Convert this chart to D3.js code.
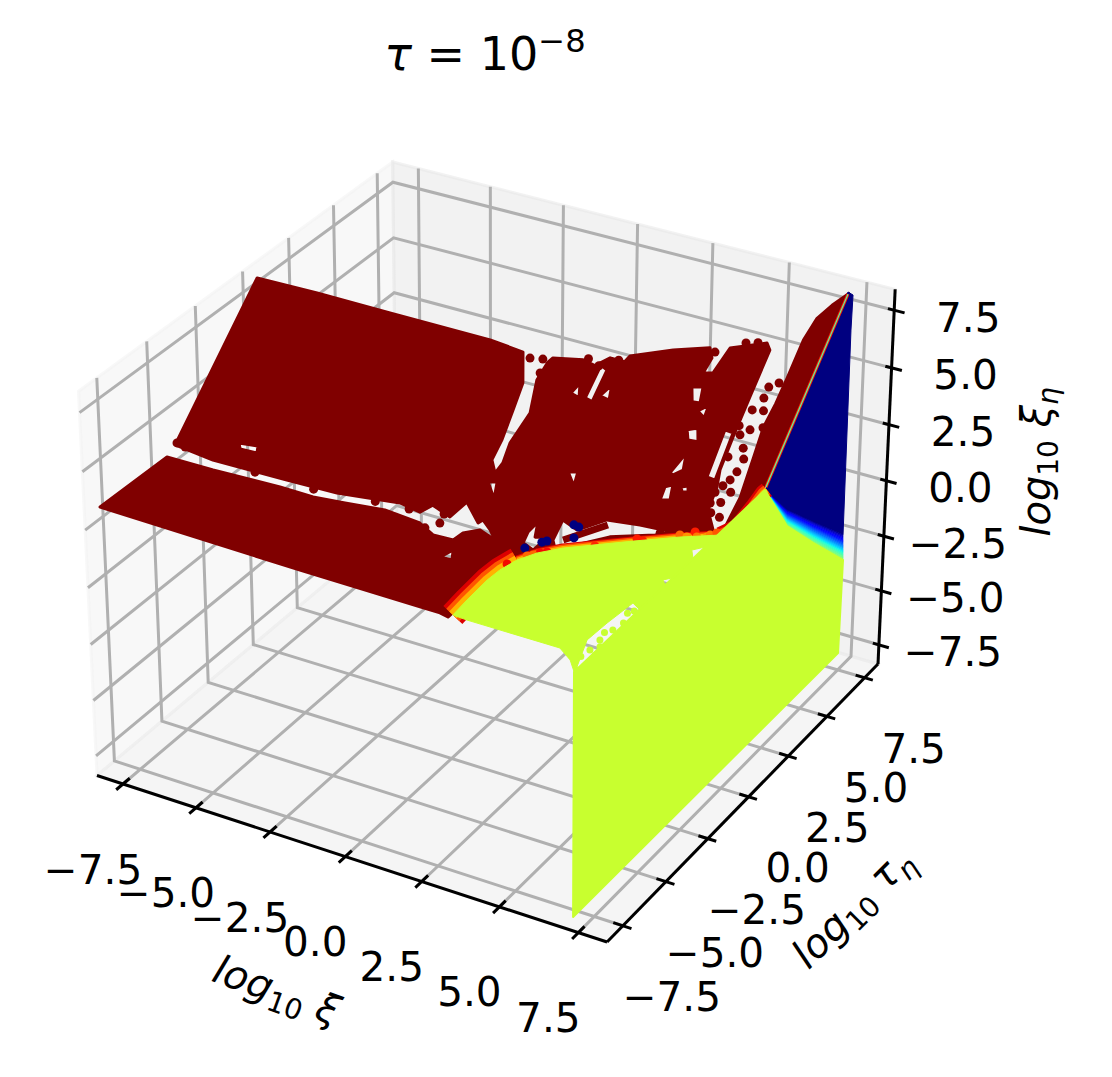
<!DOCTYPE html>
<html><head><meta charset="utf-8">
<script src="https://cdn.jsdelivr.net/npm/d3@7"></script>
<style>html,body{margin:0;background:#fff}svg{display:block}text{font-family:"DejaVu Sans";fill:#000}</style></head>
<body><svg id="chart" width="1112" height="1077"></svg>
<script>
// axis ticks, all three axes share them
const ticks = [-7.5, -5, -2.5, 0, 2.5, 5, 7.5];

// sloped maroon sheet, pairs of [log xi, log tau], xi_eta = tau + 3
const backOutline = [[-9.81,2.92],[-7.74,2.95],[-5.23,2.94],[-1.85,2.94],[-0.71,2.86],[-0.29,2.12],[-0.21,1.41],[-0.13,0.63],[-0.15,0.10],[0.12,-0.19],[0.21,0.10],[0.15,0.62],[0.33,1.45],[0.08,2.28],[0.16,2.78],[0.25,2.91],[1.16,3.06],[1.58,3.00],[1.92,3.28],[2.39,3.28],[2.47,3.45],[3.64,3.87],[4.67,4.15],[4.86,3.92],[4.80,3.51],[5.08,3.57],[5.25,4.27],[6.24,4.62],[6.41,4.47],[6.44,3.24],[6.47,2.20],[6.52,1.35],[6.65,0.93],[6.69,0.34],[7.08,-0.08],[5.11,-0.72],[3.10,-1.52],[1.69,-2.24],[1.14,-1.84],[0.74,-1.54],[0.40,-1.36],[0.30,-1.46],[-0.31,-1.05],[-0.60,-1.51],[-1.26,-1.35],[-1.54,-1.60],[-2.25,-1.52],[-4.25,-1.71],[-5.93,-1.75],[-8.45,-1.78],[-9.83,-1.68]];
const backHoles = [
  [[6.51,1.08],[6.42,2.29],[6.15,2.31],[6.24,1.10]],
  [[4.66,3.11],[4.98,3.18],[5.10,2.78],[4.86,2.76]],
  [[5.14,2.58],[5.38,2.79],[5.41,2.46]],
  [[5.08,2.07],[5.36,2.18],[5.54,1.86],[5.23,1.84]],
  [[5.14,0.96],[5.31,1.41],[5.33,1.60],[5.48,1.11],[5.26,0.93]],
  [[5.21,0.27],[5.18,0.60],[5.38,0.70],[5.49,0.33]],
  [[5.64,0.70],[5.82,0.77],[5.90,0.63],[5.73,0.59]],
  [[2.22,0.32],[2.50,0.38],[2.57,0.03]],
  [[1.25,2.19],[1.38,2.49],[1.55,2.13]],
  [[1.73,2.17],[1.75,3.05],[1.99,2.97],[1.98,2.12]],
  [[2.13,2.31],[2.33,2.65],[2.45,2.27]],
  [[0.04,-0.44],[0.30,-0.38],[0.44,-0.80]],
  [[-7.91,-1.20],[-7.29,-1.14],[-7.22,-1.31],[-7.79,-1.33]],
  [[2.70,-0.83],[3.24,-0.97],[3.96,-0.54],[4.96,-0.44],[5.98,-0.39],[5.51,-0.57],[4.26,-0.91],[3.37,-1.33],[2.84,-1.53],[2.68,-1.36]],
  [[1.35,-1.87],[1.61,-1.92],[2.00,-2.04],[1.63,-2.07]],
  [[1.86,-1.34],[2.01,-1.04],[2.13,-1.41],[2.50,-1.32],[2.24,-1.72],[1.86,-1.62]]
];
const backBar = [[2.97,-1.29],[4.05,-0.65]];
const backDots = [[-0.42,2.76],[-0.03,2.82],[0.08,2.47],[4.87,4.08],[5.64,4.49],[5.98,4.57],[6.85,3.59],[7.09,3.75],[6.85,3.30],[6.67,2.95],[6.86,2.47],[6.64,2.29],[6.58,1.70],[7.02,1.41],[6.93,1.18],[6.66,0.80],[6.66,0.52],[5.95,0.25],[5.62,-0.03],[5.99,0.00],[6.26,0.20],[6.67,0.03],[6.88,-0.07],[6.60,-0.24],[6.39,-0.32],[4.66,-0.30],[5.63,-0.49],[-1.18,-1.93],[-0.81,-1.48],[-0.81,-1.72],[-9.80,-1.62],[-9.49,-1.66],
  [6.80,1.00],[6.95,0.60],[6.80,0.30],[7.10,0.90],[7.10,0.25],[6.30,0.45],[6.45,0.60],[6.90,2.00],[7.05,1.75],[7.20,2.60],[7.00,3.00],[6.50,2.50],
  [-7.00,-1.78],[-5.00,-1.78],[-3.00,-1.65],[-1.90,-1.60],[1.30,3.12],[1.70,3.02],[2.20,3.28]];
const blueDots = [[3.08,-0.87],[3.25,-0.89],[2.39,-1.48],[2.52,-1.42],[1.98,-1.73],[1.67,-2.09],[3.25,-1.17]];

// flat sheet, pairs of [log xi, log tau], xi_eta = 2.7
const stripOutline = [[-8.62,-7.32],[-8.58,-3.95],[-7.02,-3.93],[-4.84,-3.81],[-3.72,-3.83],[-2.76,-3.67],[-1.58,-3.45],[-0.35,-3.59],[0.31,-3.98],[0.94,-3.94],[0.98,-3.47],[1.31,-3.09],[1.95,-3.36],[3.00,-4.35],[2.91,-6.39],[2.93,-7.61],[2.63,-7.53],[2.00,-7.53],[-1.88,-7.48]];
const stripHole = [[1.10,-4.94],[1.22,-4.42],[1.47,-4.91]];
const plateauOutline = [[2.99,-7.45],[2.92,-6.57],[2.86,-5.37],[2.89,-4.72],[3.03,-4.01],[3.32,-3.40],[3.81,-2.80],[4.45,-2.24],[5.31,-1.49],[6.33,-0.64],[7.25,0.02],[7.45,0.66],[7.32,1.88],[7.20,2.74],[7.21,2.95],[7.28,-8.38],[6.89,-7.90],[6.35,-7.50],[3.46,-7.49]];
const plateauHoles = [
  [[7.22,-8.12],[6.78,-6.77],[6.82,-5.73],[6.92,-4.45],[7.26,-4.68],[7.37,-6.01],[7.25,-7.28],[7.39,-8.09]],
  [[6.96,-1.11],[7.20,-0.78],[7.41,-1.29],[7.19,-1.48]],
  [[7.04,-2.95],[7.21,-2.73],[7.39,-3.07],[7.22,-3.16]]
];
const edgeLeft = [[2.99,-7.45],[2.92,-6.57],[2.86,-5.37],[2.89,-4.72],[3.03,-4.01]];
const edgeMiddle = [[3.03,-4.01],[3.32,-3.40],[3.81,-2.80],[4.45,-2.24],[5.31,-1.49],[6.33,-0.64],[7.25,0.02]];
const edgeRight = [[7.25,0.02],[7.45,0.66],[7.32,1.88],[7.20,2.74],[7.21,2.95]];
const hotDots = [[2.90,-4.34],[3.12,-4.28],[4.52,-2.26],[3.39,-3.36],[3.53,-3.21],[3.16,-3.68],[3.28,-3.55],[5.35,-1.33],[5.55,-1.35],[6.28,-0.54],[6.50,-0.54],[6.57,-0.18],[6.74,-0.40],[6.99,-0.26],[7.01,-0.12],[7.12,0.08]];
const hotValues = [0.9,0.68,0.87,0.9,0.9,0.8,0.8,0.88,0.88,0.8,0.75,0.88,0.78,0.75,0.78,0.82];
const limeDots = [[7.10,-7.19],[7.08,-6.60],[7.13,-5.97],[7.05,-7.60],[7.25,-6.90],[7.00,-6.20],[7.20,-5.50],[7.05,-5.00],[7.15,-4.80]];

// ridge, pairs of [log xi, log tau], xi_eta = tau
const ridgeOutline = [[7.12,8.03],[6.78,7.63],[6.51,7.21],[6.40,6.60],[6.42,5.61],[6.42,4.90],[6.37,4.27],[6.47,3.50],[6.60,2.47],[6.54,1.59],[6.87,1.80],[7.12,2.52],[7.16,2.97]];

// wall at log xi = 7, pairs of [log tau, log xi_eta]
const blueOutline = [[3.37,2.61],[8.22,7.91],[8.56,7.58],[8.52,6.08],[8.55,-3.08],[6.47,-1.11],[4.72,0.58],[3.26,2.29]];
const blueEdge = [[3.25,2.42],[4.72,0.58],[6.47,-1.11],[8.55,-3.08]];
const limeEdge = [[3.25,2.42],[4.76,-0.25],[6.53,-2.19],[8.63,-4.38]];
const wallOutline = [[-7.80,-8.41],[8.54,-8.55],[8.62,-4.28],[6.52,-2.09],[4.75,-0.15],[3.25,2.42],[-7.88,2.23]];
const peakLine = [[3.31,2.51],[8.22,7.82]];

// jet colour map levels used by the edge stripes [value, left, middle, right stroke]
const edgeLevels = [[0.92,26,9,16],[0.82,18,7,11],[0.72,10,4,6]];

const LIM = 8.4;
const aspect = [1.1905, 1.1905, 0.8929], elev = 30 * Math.PI / 180, azim = -60 * Math.PI / 180, dist = 10;
const sc = aspect.map(a => d3.scaleLinear().domain([-LIM, LIM]).range([0, a]));
const w = [Math.cos(elev) * Math.cos(azim), Math.cos(elev) * Math.sin(azim), Math.sin(elev)];
const E = aspect.map((a, i) => a / 2 + dist * w[i]);
const cross = (a, b) => [a[1]*b[2]-a[2]*b[1], a[2]*b[0]-a[0]*b[2], a[0]*b[1]-a[1]*b[0]];
const dot = (a, b) => a[0]*b[0] + a[1]*b[1] + a[2]*b[2];
let u = cross([0, 0, 1], w);
const un = Math.hypot(...u);
u = u.map(d => d / un);
const v = cross(w, u);

// same perspective as mplot3d, elev 30 azim -60
function view(p) {
  const q = [sc[0](p[0]) - E[0], sc[1](p[1]) - E[1], sc[2](p[2]) - E[2]];
  const zv = -dot(w, q);
  return [dot(u, q) / zv, dot(v, q) / zv];
}
const L = -LIM, H = LIM;
const xS = d3.scaleLinear().domain([view([L,L,L])[0], view([H,H,L])[0]]).range([97, 878]);
const yS = d3.scaleLinear().domain([view([H,L,L])[1], view([L,H,H])[1]]).range([942, 162]);
const pr = p => { const s = view(p); return [xS(s[0]), yS(s[1])]; };

const onBack = l => l.map(d => [d[0], d[1], d[1] + 3]);
const onFlat = l => l.map(d => [d[0], d[1], 2.7]);
const onRidge = l => l.map(d => [d[0], d[1], d[1]]);
const onWall = l => l.map(d => [7, d[0], d[1]]);

const svg = d3.select("#chart");
const line = d3.line().x(d => pr(d)[0]).y(d => pr(d)[1]);
const ringPath = rs => rs.map(r => line(r) + "Z").join("");

const jetR = d3.scaleLinear().domain([0,.35,.66,.89,1]).range([0,0,1,1,.5]);
const jetG = d3.scaleLinear().domain([0,.125,.375,.64,.91,1]).range([0,0,1,1,0,0]);
const jetB = d3.scaleLinear().domain([0,.11,.34,.65,1]).range([.5,1,1,0,0]);
const jet = t => d3.rgb(255*jetR(t), 255*jetG(t), 255*jetB(t)).formatHex();
const MAROON = jet(1), NAVY = jet(0), LIME = jet(.593);

// panes
const panes = [[[L,L,L],[L,H,L],[L,H,H],[L,L,H]], [[L,H,L],[H,H,L],[H,H,H],[L,H,H]], [[L,L,L],[H,L,L],[H,H,L],[L,H,L]]];
const paneC = ["rgba(242,242,242,.5)", "rgba(230,230,230,.5)", "rgba(236,236,236,.5)"];
svg.selectAll(".pane").data(panes).join("path").attr("class", "pane")
  .attr("d", d => line(d) + "Z").attr("fill", (d, i) => paneC[i]).attr("stroke", (d, i) => paneC[i]).attr("stroke-width", 3);

// grid
const grid = [];
ticks.forEach(t => {
  grid.push([[t,L,L],[t,H,L],[t,H,H]]);
  grid.push([[H,t,L],[L,t,L],[L,t,H]]);
  grid.push([[L,L,t],[L,H,t],[H,H,t]]);
});
svg.selectAll(".grid").data(grid).join("path").attr("class", "grid")
  .attr("d", line).attr("fill", "none").attr("stroke", "#b0b0b0").attr("stroke-width", 3);

// axis lines and tick marks
const axes = [[[L,L,L],[H,L,L]], [[H,L,L],[H,H,L]], [[H,H,L],[H,H,H]]];
ticks.forEach(t => {
  axes.push([[t,L-.35,L],[t,L+.35,L]]);
  axes.push([[H-.3,t,L],[H+.27,t,L]]);
  axes.push([[H-.2,H,t],[H+.33,H,t]]);
});
svg.selectAll(".ax").data(axes).join("path").attr("class", "ax")
  .attr("d", line).attr("fill", "none").attr("stroke", "#000").attr("stroke-width", 3);

const fmt = t => (t < 0 ? "\u2212" : "") + Math.abs(t).toFixed(1);
function tickLabel(p, dx, dy, t) {
  const s = pr(p);
  svg.append("text").attr("x", s[0] + dx).attr("y", s[1] + dy).attr("dy", ".36em")
    .attr("text-anchor", "middle").attr("font-size", 40.5).text(fmt(t));
}
ticks.forEach(t => {
  tickLabel([t,L,L], -30, 85, t);
  tickLabel([H,t,L], 49, 71, t);
  tickLabel([H,H,t], 74, 7, t);
});

const rings = (rs, c, sw) => svg.append("path").attr("d", ringPath(rs)).attr("fill", c).attr("fill-rule", "evenodd")
  .attr("stroke", c).attr("stroke-width", sw).attr("stroke-linejoin", "round");
const dots = (l, c, r) => svg.append("g").selectAll("circle").data(l).join("circle")
  .attr("cx", d => pr(d)[0]).attr("cy", d => pr(d)[1]).attr("r", r).attr("fill", c);
const stroke = (l, c, sw) => svg.append("path").attr("d", line(l)).attr("fill", "none").attr("stroke", c)
  .attr("stroke-width", sw).attr("stroke-linejoin", "round");

// maroon sheets
rings([backOutline].concat(backHoles).map(onBack), MAROON, 3);
dots(onBack(backDots), MAROON, 4.5);
stroke(onBack(backBar), MAROON, 7);
rings([stripOutline, stripHole].map(onFlat), MAROON, 3);
dots(onBack(blueDots), NAVY, 4.5);
rings([onRidge(ridgeOutline)], MAROON, 2);

// wall, blue then fan of jet colours down to lime
rings([onWall(blueOutline)], NAVY, 1);
const N = 22, bE = onWall(blueEdge), lE = onWall(limeEdge);
const mix = (a, b, t) => a.map((d, i) => [d[0], d[1] + (b[i][1] - d[1]) * t, d[2] + (b[i][2] - d[2]) * t]);
d3.range(N).forEach(k => {
  const A = mix(bE, lE, k / N), B = mix(bE, lE, (k + 1) / N), c = jet(.03 + .563 * k / N);
  svg.append("path").attr("d", line(A.concat(B.slice().reverse())) + "Z").attr("fill", c).attr("stroke", c).attr("stroke-width", .6);
});

// hot stripes along the rim of the plateau
edgeLevels.forEach(b => {
  stroke(onFlat(edgeLeft), jet(b[0]), b[1]);
  stroke(onFlat(edgeMiddle), jet(b[0]), b[2]);
  stroke(onFlat(edgeRight), jet(b[0]), b[3]);
});
stroke(onWall(peakLine), jet(.88), 3);
stroke(onWall(peakLine), jet(.45), 1.2);
hotDots.forEach((d, i) => dots(onFlat([d]), jet(hotValues[i]), 4.5));

rings([plateauOutline].concat(plateauHoles).map(onFlat), LIME, 1);
dots(onFlat(limeDots), LIME, 3.5);
rings([onWall(wallOutline)], LIME, 2);

// mathtext style labels
function mathLabel(x, y, rot, fs, parts) {
  const t = svg.append("text").attr("transform", `translate(${x},${y}) rotate(${rot})`).attr("text-anchor", "middle").attr("font-size", fs);
  parts.forEach(p => {
    t.append("tspan").attr("font-style", p[1] || "normal").attr("font-size", fs * (p[2] || 1)).attr("dy", p[3] || 0).text(p[0]);
  });
}
mathLabel(485, 70, 0, 46, [["\u03c4", "italic"], [" = 10"], ["\u22128", null, .7, -18]]);
mathLabel(272, 1003, 20, 40, [["log", "italic"], ["10", null, .7, 8], [" "], ["\u03be", "italic", 1, -8]]);
mathLabel(862, 917, -45, 40, [["log", "italic"], ["10", null, .7, 8], [" "], ["\u03c4", "italic", 1, -8], ["\u03b7", "italic", .7, 8]]);
mathLabel(1050, 462, -90, 40, [["log", "italic"], ["10", null, .7, 8], [" "], ["\u03be", "italic", 1, -8], ["\u03b7", "italic", .7, 8]]);
</script></body></html>
